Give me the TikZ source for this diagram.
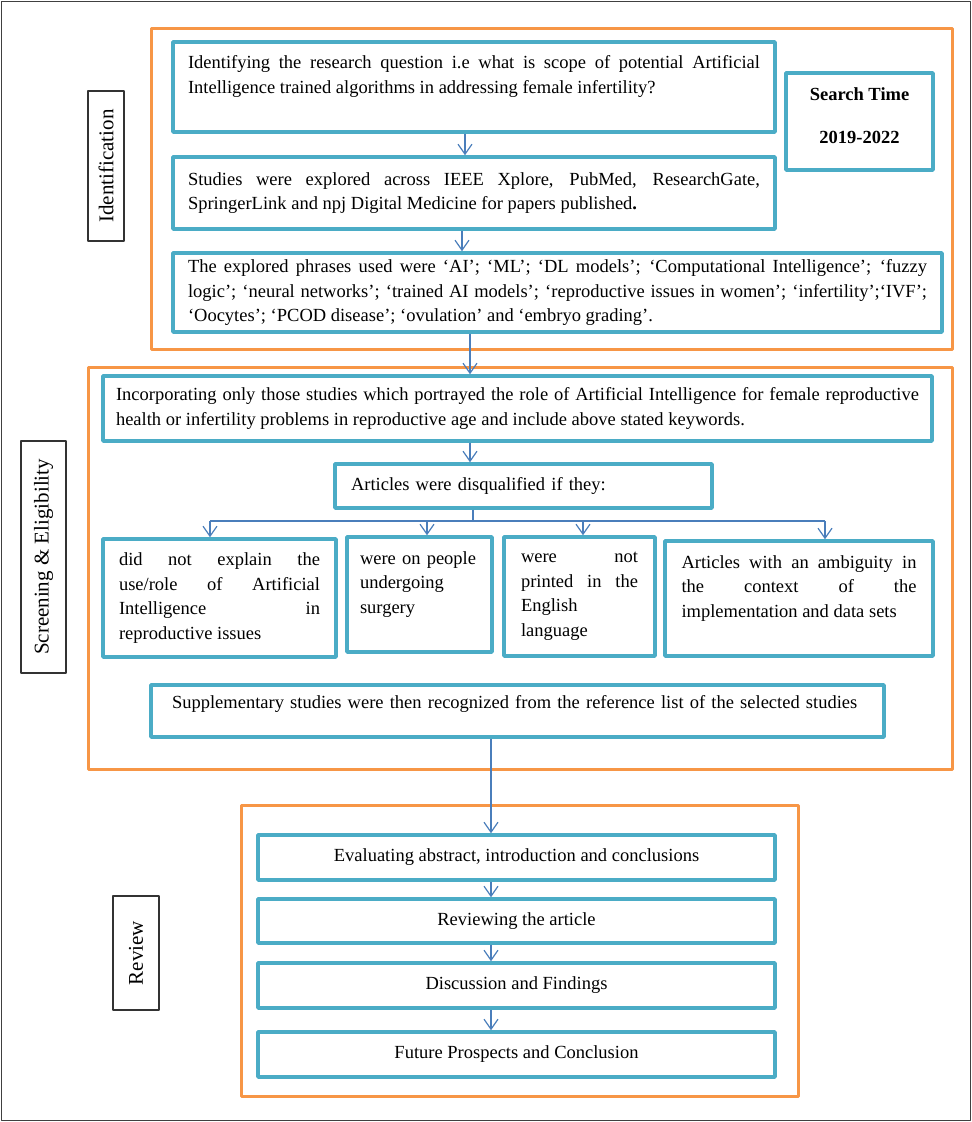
\documentclass[tikz,border=0pt]{standalone}
\usepackage{fontspec}
\setmainfont{Liberation Serif}
\usetikzlibrary{arrows.meta}
\definecolor{boxblue}{HTML}{4BACC6}
\definecolor{grporange}{HTML}{F79646}
\definecolor{linkblue}{HTML}{4A7EBB}
\definecolor{framegray}{HTML}{404040}
\tolerance=10000
\hbadness=10000
\hyphenpenalty=10000
\begin{document}
\begin{tikzpicture}[>={Straight Barb[length=10bp,width=14bp]},line join=bevel,
  bluebox/.style={draw=boxblue,line width=3.5bp,fill=white,inner sep=0bp,font=\fontsize{18.5bp}{24.5bp}\selectfont},
  grp/.style={draw=grporange,line width=3bp,inner sep=0bp},
  lbl/.style={draw=black!80,line width=1.5bp,fill=white,inner sep=0bp,font=\fontsize{21bp}{24bp}\selectfont},
  link/.style={linkblue,line width=1.2bp}]
%%
\useasboundingbox (0bp,0bp) rectangle (972bp,1122bp);
\draw [framegray,line width=1.5bp] (1.5bp,1.5bp) rectangle (970.5bp,1120.5bp);
%
\node (node_grpid) at (551.5bp,932.5bp) [grp,minimum width=801bp,minimum height=321bp] {};
  \node (node_grpscr) at (520bp,553bp) [grp,minimum width=864bp,minimum height=402bp] {};
  \node (node_grprev) at (519.5bp,170.5bp) [grp,minimum width=557bp,minimum height=291bp] {};
%
\node (node_lid) at (106bp,956bp) [lbl,rotate=90,minimum width=150bp,minimum height=36bp] {Identification};
  \node (node_lscr) at (43.5bp,565bp) [lbl,rotate=90,minimum width=232bp,minimum height=45bp] {Screening \& Eligibility};
  \node (node_lrev) at (136bp,169bp) [lbl,rotate=90,minimum width=114bp,minimum height=46bp] {Review};
%
\node (node_question) at (474bp,1035bp) [bluebox,minimum width=602bp,minimum height=90bp,text width=572bp,align=justify] {Identifying the research question i.e what is scope of potential Artificial\linebreak Intelligence trained algorithms in addressing female infertility?\\\mbox{}};
  \node (node_search) at (859.5bp,1000.5bp) [bluebox,minimum width=147bp,minimum height=97bp,align=center,font=\fontsize{18.5bp}{24.5bp}\selectfont\bfseries] {Search Time\\[18.5bp]2019-2022\\[-12bp]\mbox{}};
  \node (node_sources) at (474bp,929bp) [bluebox,minimum width=602bp,minimum height=72bp,text width=572bp,align=justify] {Studies were explored across IEEE Xplore, PubMed, ResearchGate,\linebreak SpringerLink and npj Digital Medicine for papers published\textbf{.}};
  \node (node_phrases) at (557.5bp,829.5bp) [bluebox,minimum width=769bp,minimum height=79bp,text width=739bp,align=justify] {The explored phrases used were ‘AI’; ‘ML’; ‘DL models’; ‘Computational Intelligence’; ‘fuzzy\linebreak logic’; ‘neural networks’; ‘trained AI models’; ‘reproductive issues in women’; ‘infertility’;‘IVF’;\linebreak ‘Oocytes’; ‘PCOD disease’; ‘ovulation’ and ‘embryo grading’.};
%
\node (node_include) at (517.5bp,713.5bp) [bluebox,minimum width=829bp,minimum height=65bp,text width=803bp,align=justify] {Incorporating only those studies which portrayed the role of Artificial Intelligence for female reproductive\linebreak health or infertility problems in reproductive age and include above stated keywords.};
  \node (node_disq) at (523.5bp,636bp) [bluebox,minimum width=377bp,minimum height=44bp,text width=345bp,align=left] {Articles were disqualified if they:};
  \node (node_ex1) at (219.5bp,524bp) [bluebox,minimum width=233bp,minimum height=118bp,text width=201bp,align=justify] {did not explain the\linebreak use/role of Artificial\linebreak Intelligence in\linebreak reproductive issues};
  \node (node_ex2) at (419.5bp,527.5bp) [bluebox,minimum width=145bp,minimum height=115bp,text width=119bp,align=left] {were on people\\undergoing\\surgery\\\mbox{}};
  \node (node_ex3) at (579.5bp,525.5bp) [bluebox,minimum width=151bp,minimum height=119bp,text width=117bp,align=justify] {were not\linebreak printed in the\linebreak English\linebreak language};
  \node (node_ex4) at (799bp,523.5bp) [bluebox,minimum width=268bp,minimum height=115bp,text width=235bp,align=justify] {Articles with an ambiguity in\linebreak the context of the\linebreak implementation and data sets\\\mbox{}};
  \node (node_supp) at (517.5bp,411bp) [bluebox,minimum width=733bp,minimum height=52bp,text width=691bp,align=left,text height=14bp,text depth=19bp] {Supplementary studies were then recognized from the reference list of the selected studies};
%
\node (node_eval) at (516.5bp,264.5bp) [bluebox,minimum width=517bp,minimum height=45bp] {Evaluating abstract, introduction and conclusions};
  \node (node_review) at (516.5bp,201bp) [bluebox,minimum width=517bp,minimum height=44bp] {Reviewing the article};
  \node (node_disc) at (516.5bp,136.5bp) [bluebox,minimum width=517bp,minimum height=45bp] {Discussion and Findings};
  \node (node_future) at (516.5bp,67.5bp) [bluebox,minimum width=517bp,minimum height=45bp] {Future Prospects and Conclusion};
%
\draw [link,->] ([xshift=-9bp]node_question.south) -- ([xshift=-9bp]node_sources.north);
  \draw [link,->] ([xshift=-12bp]node_sources.south) -- ([xshift=-12bp]node_sources.south |- node_phrases.north);
  \draw [link,->] ([xshift=-47.5bp]node_include.north |- node_phrases.south) -- ([xshift=-47.5bp]node_include.north);
  \draw [link,->] ([xshift=-53.5bp]node_disq.north |- node_include.south) -- ([xshift=-53.5bp]node_disq.north);
%
\coordinate (split) at (473bp,601bp);
  \draw [link] (node_disq.south -| split) -- (split);
  \draw [link] ([xshift=-9.5bp]node_ex1.north |- split) -- ([xshift=26bp]node_ex4.north |- split);
  \foreach \n/\dx in {node_ex1/-9.5,node_ex2/7.5,node_ex3/3.5,node_ex4/26}
    \draw [link,->] ([xshift=\dx bp]\n.north |- split) -- ([xshift=\dx bp]\n.north);
%
\draw [link,->] ([xshift=-25.5bp]node_eval.north |- node_supp.south) -- ([xshift=-25.5bp]node_eval.north);
  \foreach \a/\b in {node_eval/node_review,node_review/node_disc,node_disc/node_future}
    \draw [link,->] ([xshift=-25.5bp]\a.south) -- ([xshift=-25.5bp]\b.north);
%
\end{tikzpicture}
\end{document}
